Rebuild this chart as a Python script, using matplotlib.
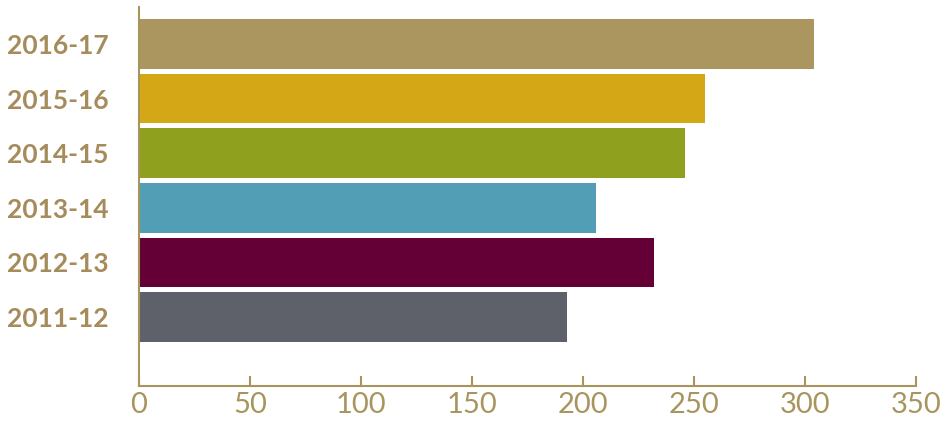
import matplotlib
matplotlib.use("Agg")
import matplotlib.pyplot as plt

categories = ["2011-12", "2012-13", "2013-14", "2014-15", "2015-16", "2016-17"]
values = [193, 232, 206, 246, 255, 304]
colors = ["#5E6169", "#650036", "#529EB5", "#8FA01F", "#D4A717", "#AA965E"]
xticks = [0, 50, 100, 150, 200, 250, 300, 350]

tan = "#A8955E"
label_col = "#A68B5B"

fig = plt.figure(figsize=(9.45, 4.23), dpi=100)
ax = fig.add_axes([0.1471, 0.0875, 0.969 - 0.1471, 0.9835 - 0.0875])
ypos = list(range(len(categories)))
ax.barh(ypos, values, height=0.91, color=colors)
ax.set_xlim(0, 350)
ax.set_ylim(-1.264, 5.678)
ax.set_xticks(xticks)
ax.set_xticklabels([str(t) for t in xticks], fontsize=21, color=tan, family="Lato")
ax.set_yticks(ypos)
ax.set_yticklabels(categories, fontsize=19, fontweight="bold", color=label_col, family="Lato")
for lab in ax.get_yticklabels():
    lab.set_horizontalalignment("left")
ax.tick_params(axis="y", length=0, pad=95)
ax.tick_params(axis="x", direction="in", length=7, width=1.5, color=tan, pad=4)
for s in ["top", "right"]:
    ax.spines[s].set_visible(False)
for s in ["left", "bottom"]:
    ax.spines[s].set_color(tan)
    ax.spines[s].set_linewidth(1.5)
fig.savefig("out.png", dpi=100)
